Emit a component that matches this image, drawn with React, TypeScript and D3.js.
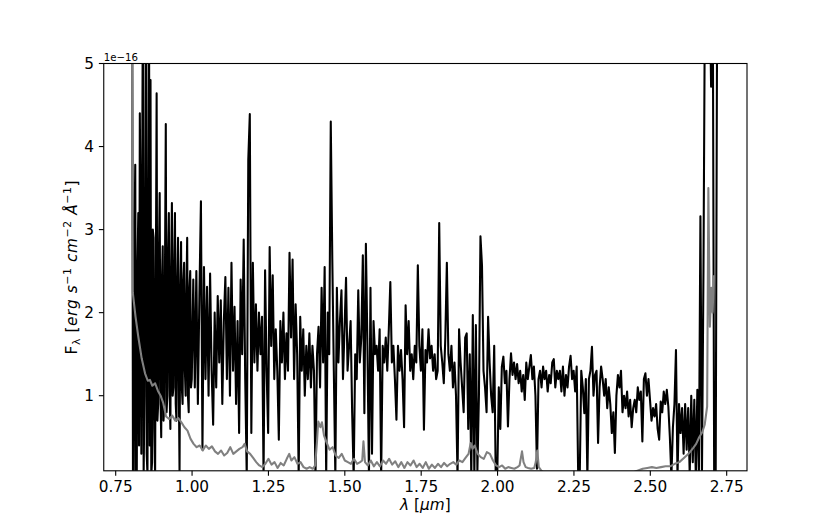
import React from 'react';
import * as d3 from 'd3';

// Wavelength grids of the black spectrum (micron)
const Z_START = 0.804;   // finely sampled blue end
const Z_STEP = 0.0025;
const MAIN_START = 1.004;
const MAIN_STEP = 0.005;

// Flux (units of 1e-16 erg s^-1 cm^-2 A^-1)
const FLUX_Z = [
  6.0, 0.1, 0.02, 2.9, 3.78, 0.1, 0.05, 2.6, 3.2, 0.4,
  4.4, 3.0, 0.3, 3.3, 6.0, 0.05, 1.0, 3.0, 6.0, 0.3,
  0.05, 3.1, 6.0, 0.4, 4.8, 0.05, 0.2, 3.0, 2.9, 0.6,
  0.05, 2.5, 4.64, 0.7, 0.9, 2.7, 3.44, 1.0, 0.5, 2.4,
  2.8, 0.7, 0.9, 2.6, 4.27, 0.8, 1.0, 2.7, 3.2, 1.1,
  0.6, 2.5, 3.32, 1.0, 1.1, 2.6, 3.2, 0.9, 0.7, 2.4,
  2.9, 1.2, 0.08, 2.3, 2.85, 1.1, 0.9, 2.4, 2.6, 1.3,
  1.0, 2.2, 2.9, 1.0, 0.8, 2.3, 2.5, 1.1, 1.2,
];
const FLUX_B = [
  2.4, 1.1, 2.5, 0.9, 2.2, 3.34, 0.35, 2.55, 1.2, 2.31,
  1.0, 2.47, 1.3, 0.65, 2.0, 1.1, 2.2, 1.4, 2.15, 0.9,
  1.9, 2.43, 1.2, 2.3, 1.0, 2.6, 1.3, 2.07, 0.9, 1.9,
  0.55, 2.4, 1.5, 2.88, 1.2, 0.02, 3.84, 4.39, 0.55, 2.6,
];
const FLUX_C = [
  1.4, 2.1, 1.3, 2.0, 1.5, 1.95, 0.02, 2.51, 1.3, 0.55,
  2.79, 1.6, 2.45, 1.2, 1.8, 1.3, 0.47, 1.9, 1.4, 2.0,
  1.2, 1.75, 1.3, 2.72, 1.7, 2.64, 1.2, 2.1, 1.5, 0.02,
  1.95, 1.3, 1.8, 1.0, 1.6, 1.2, 1.75, 1.1, 1.6, 1.3,
];
const FLUX_D = [
  0.02, 1.5, 1.83, 1.1, 2.3, 1.4, 2.55, 0.02, 2.0, 1.5,
  4.3, 2.65, 1.3, 0.02, 2.3, 1.4, 1.9, 2.27, 1.2, 1.8,
  2.42, 1.3, 1.6, 1.9, 0.8, 0.02, 1.5, 1.2, 2.27, 1.4,
  1.7, 2.69, 0.79, 2.83, 1.6, 0.02, 2.3, 0.3, 1.9, 1.5,
];
const FLUX_E = [
  1.6, 1.3, 1.8, 0.02, 1.6, 1.4, 1.7, 1.3, 1.8, 2.37,
  1.4, 1.6, 1.2, 0.71, 1.6, 1.3, 1.55, 1.2, 0.62, 2.09,
  1.5, 1.9, 1.3, 1.5, 1.2, 1.6, 1.4, 2.57, 1.6, 1.3,
  1.8, 0.59, 1.55, 1.4, 1.8, 1.45, 1.6, 1.3, 1.5, 1.2,
];
const FLUX_F = [
  1.3, 3.08, 1.6, 1.4, 1.15, 1.7, 2.6, 1.5, 1.3, 1.6,
  1.1, 1.4, 1.0, 0.02, 1.8, 1.4, 1.1, 0.8, 1.7, 1.75,
  0.6, 1.5, 0.02, 1.97, 0.02, 1.85, 0.1, 1.0, 2.92, 2.57,
  1.3, 1.1, 0.8, 1.95, 1.4, 1.0, 0.8, 1.6, 0.02, 0.02,
];
const FLUX_G = [
  1.1, 0.6, 1.35, 1.47, 1.15, 1.3, 0.63, 1.2, 1.51, 1.25,
  1.4, 1.2, 1.38, 1.15, 1.3, 1.05, 1.25, 0.95, 1.4, 1.2,
  1.35, 1.49, 1.2, 1.35, 1.0, 0.12, 1.2, 1.3, 1.1, 1.35,
  1.2, 1.3, 1.05, 1.25, 1.15, 1.4, 1.44, 1.1, 1.3, 1.2,
];
const FLUX_H = [
  1.3, 1.05, 1.35, 1.0, 1.25, 1.1, 1.35, 1.48, 1.2, 1.3,
  1.05, 1.35, 0.02, 0.02, 1.3, 1.1, 0.79, 1.2, 0.02, 1.2,
  1.3, 1.59, 1.0, 1.25, 1.3, 0.43, 1.1, 1.35, 1.2, 1.0,
  1.2, 0.85, 1.1, 0.9, 0.55, 0.8, 0.31, 1.0, 1.25, 1.1,
];
const FLUX_I = [
  1.3, 0.8, 1.0, 0.85, 1.05, 0.75, 0.95, 0.62, 0.85, 0.95,
  0.8, 1.1, 0.95, 1.05, 0.45, 1.2, 1.27, 1.0, 1.2, 0.95,
  0.7, 0.85, 0.75, 0.9, 0.6, 0.47, 0.93, 0.8, 1.05, 0.9,
  1.07, 0.87, 0.5, 0.02, 0.62, 0.9, 1.55, 0.02, 0.9, 0.55,
  0.85, 0.3, 0.9, 0.35, 0.85, 0.05, 1.0, 0.2, 0.95, 0.02,
  1.07, 0.02, 3.16, 0.02, 2.5, 6.0, 7.5, 7.0, 6.0, 4.72,
  6.5, 0.02, 0.02, 6.0,
];

// Gray (error) spectrum
const GRAY_WAVE = [
  0.803, 0.806, 0.815, 0.824, 0.835, 0.846, 0.855, 0.862, 0.870, 0.879,
  0.888, 0.897, 0.905, 0.915, 0.925, 0.935, 0.945, 0.955, 0.965, 0.975,
  0.985, 0.995, 1.005, 1.015, 1.025, 1.035, 1.045, 1.055, 1.065, 1.075,
  1.085, 1.095, 1.105, 1.115, 1.125, 1.135, 1.145, 1.155, 1.165, 1.172,
  1.180, 1.190, 1.200, 1.210, 1.220, 1.230, 1.240, 1.250, 1.260, 1.270,
  1.280, 1.290, 1.300, 1.310, 1.318, 1.325, 1.335, 1.345, 1.355, 1.365,
  1.375, 1.385, 1.395, 1.403, 1.409, 1.413, 1.420, 1.425, 1.432, 1.440,
  1.450, 1.460, 1.470, 1.480, 1.490, 1.500, 1.510, 1.520, 1.530, 1.540,
  1.550, 1.557, 1.561, 1.566, 1.575, 1.585, 1.595, 1.605, 1.615, 1.625,
  1.635, 1.645, 1.655, 1.665, 1.675, 1.685, 1.695, 1.705, 1.715, 1.725,
  1.735, 1.745, 1.755, 1.765, 1.775, 1.785, 1.795, 1.805, 1.815, 1.825,
  1.835, 1.845, 1.855, 1.865, 1.875, 1.885, 1.895, 1.905, 1.912, 1.918,
  1.925, 1.935, 1.945, 1.955, 1.965, 1.975, 1.985, 1.995, 2.005, 2.015,
  2.025, 2.035, 2.045, 2.055, 2.065, 2.072, 2.080, 2.085, 2.092, 2.100,
  2.110, 2.120, 2.125, 2.130, 2.135, 2.145, 2.160, 2.200, 2.300, 2.400,
  2.445, 2.460, 2.475, 2.490, 2.505, 2.520, 2.535, 2.550, 2.565, 2.580,
  2.595, 2.610, 2.625, 2.640, 2.650, 2.660, 2.670, 2.678, 2.686, 2.690,
  2.695, 2.700, 2.704, 2.708,
];
const GRAY_FLUX = [
  6.0, 2.24, 1.95, 1.71, 1.45, 1.27, 1.18, 1.19, 1.12, 1.15,
  1.06, 1.0, 0.92, 0.75, 0.72, 0.76, 0.70, 0.73, 0.68, 0.62,
  0.58, 0.48, 0.42, 0.38, 0.40, 0.34, 0.40, 0.36, 0.39, 0.33,
  0.30, 0.34, 0.28, 0.31, 0.38, 0.30, 0.33, 0.36, 0.38, 0.42,
  0.33, 0.30, 0.25, 0.20, 0.16, 0.14, 0.18, 0.24, 0.17, 0.20,
  0.13, 0.19, 0.16, 0.24, 0.30, 0.22, 0.26, 0.18, 0.20, 0.14,
  0.12, 0.14, 0.12, 0.16, 0.45, 0.69, 0.62, 0.68, 0.52, 0.44,
  0.35, 0.38, 0.28, 0.25, 0.30, 0.22, 0.20, 0.18, 0.24, 0.18,
  0.20, 0.22, 0.45, 0.20, 0.16, 0.22, 0.15, 0.20, 0.15, 0.22,
  0.18, 0.24, 0.17, 0.21, 0.14, 0.20, 0.13, 0.20, 0.16, 0.22,
  0.14, 0.18, 0.13, 0.20, 0.12, 0.17, 0.13, 0.18, 0.14, 0.19,
  0.15, 0.18, 0.20, 0.17, 0.22, 0.20, 0.25, 0.30, 0.43, 0.36,
  0.40, 0.30, 0.26, 0.24, 0.32, 0.30, 0.22, 0.16, 0.14, 0.16,
  0.12, 0.14, 0.13, 0.12, 0.14, 0.16, 0.33, 0.20, 0.14, 0.13,
  0.12, 0.13, 0.20, 0.34, 0.14, 0.09, 0.06, 0.05, 0.04, 0.05,
  0.08, 0.10, 0.12, 0.13, 0.14, 0.13, 0.14, 0.15, 0.15, 0.18,
  0.20, 0.25, 0.30, 0.37, 0.42, 0.50, 0.56, 0.65, 0.87, 3.5,
  1.83, 2.3, 2.0, 2.45,
];

const X_TICKS = [0.75, 1.0, 1.25, 1.5, 1.75, 2.0, 2.25, 2.5, 2.75];
const Y_TICKS = [1, 2, 3, 4, 5];
const X_DOMAIN = [0.7109, 2.8165];
const Y_DOMAIN = [0.0957, 5];

const W = 830;
const H = 529;
const AX = { left: 103.75, right: 747, top: 63.5, bottom: 470.8 };
const FONT = '"DejaVu Sans", sans-serif';
const FS = 15.3;

export default function App() {
  const x = d3.scaleLinear().domain(X_DOMAIN).range([AX.left, AX.right]);
  const y = d3.scaleLinear().domain(Y_DOMAIN).range([AX.bottom, AX.top]);

  const mainFlux = [
    ...FLUX_B, ...FLUX_C, ...FLUX_D, ...FLUX_E,
    ...FLUX_F, ...FLUX_G, ...FLUX_H, ...FLUX_I,
  ];
  const black: [number, number][] = [
    ...FLUX_Z.map((f, i) => [Z_START + Z_STEP * i, f] as [number, number]),
    ...mainFlux.map((f, i) => [MAIN_START + MAIN_STEP * i, f] as [number, number]),
  ];
  const gray: [number, number][] = GRAY_WAVE.map((w, i) => [w, GRAY_FLUX[i]]);

  const line = d3
    .line<[number, number]>()
    .x((d) => x(d[0]))
    .y((d) => y(d[1]));

  const tickLen = 4.9;
  const pad = 4.9;
  const sub = 10.9;

  return (
    <svg
      width={W}
      height={H}
      style={{ position: 'absolute', left: 0, top: 0, background: '#fff' }}
      fontFamily={FONT}
    >
      <rect x={0} y={0} width={W} height={H} fill="#fff" />
      <defs>
        <clipPath id="axclip">
          <rect x={AX.left} y={AX.top} width={AX.right - AX.left} height={AX.bottom - AX.top} />
        </clipPath>
      </defs>
      <g clipPath="url(#axclip)">
        <path d={line(black) || ''} fill="none" stroke="#000" strokeWidth={2.08} strokeLinejoin="round" />
        <path d={line(gray) || ''} fill="none" stroke="#808080" strokeWidth={2.08} strokeLinejoin="round" />
      </g>
      <rect
        x={AX.left}
        y={AX.top}
        width={AX.right - AX.left}
        height={AX.bottom - AX.top}
        fill="none"
        stroke="#000"
        strokeWidth={1.1}
      />
      {X_TICKS.map((t) => (
        <g key={'x' + t}>
          <line x1={x(t)} x2={x(t)} y1={AX.bottom} y2={AX.bottom + tickLen} stroke="#000" strokeWidth={1.1} />
          <text
            x={x(t)}
            y={AX.bottom + tickLen + pad}
            dy="0.76em"
            textAnchor="middle"
            fontSize={FS}
            fill="#000"
          >
            {d3.format('.2f')(t)}
          </text>
        </g>
      ))}
      {Y_TICKS.map((t) => (
        <g key={'y' + t}>
          <line x1={AX.left - tickLen} x2={AX.left} y1={y(t)} y2={y(t)} stroke="#000" strokeWidth={1.1} />
          <text
            x={AX.left - tickLen - pad}
            y={y(t)}
            dy="0.36em"
            textAnchor="end"
            fontSize={FS}
            fill="#000"
          >
            {t}
          </text>
        </g>
      ))}
      <text x={AX.left} y={61} fontSize={10.2} fill="#000">
        1e−16
      </text>
      <text x={(AX.left + AX.right) / 2} y={510} textAnchor="middle" fontSize={FS} fill="#000">
        <tspan fontStyle="italic">λ</tspan>
        <tspan> [</tspan>
        <tspan fontStyle="italic">μm</tspan>
        <tspan>]</tspan>
      </text>
      <text
        transform={`translate(77,${(AX.top + AX.bottom) / 2}) rotate(-90)`}
        textAnchor="middle"
        fontSize={FS}
        fill="#000"
        letterSpacing={0.6}
      >
        <tspan>F</tspan>
        <tspan fontSize={sub} dy={3}>λ</tspan>
        <tspan dy={-3}> [</tspan>
        <tspan fontStyle="italic">erg</tspan>
        <tspan> </tspan>
        <tspan fontStyle="italic">s</tspan>
        <tspan fontSize={sub} dy={-6}>−1</tspan>
        <tspan dy={6}> </tspan>
        <tspan fontStyle="italic">cm</tspan>
        <tspan fontSize={sub} dy={-6}>−2</tspan>
        <tspan dy={6}> </tspan>
        <tspan fontStyle="italic">Å</tspan>
        <tspan fontSize={sub} dy={-6}>−1</tspan>
        <tspan dy={6}>]</tspan>
      </text>
    </svg>
  );
}
